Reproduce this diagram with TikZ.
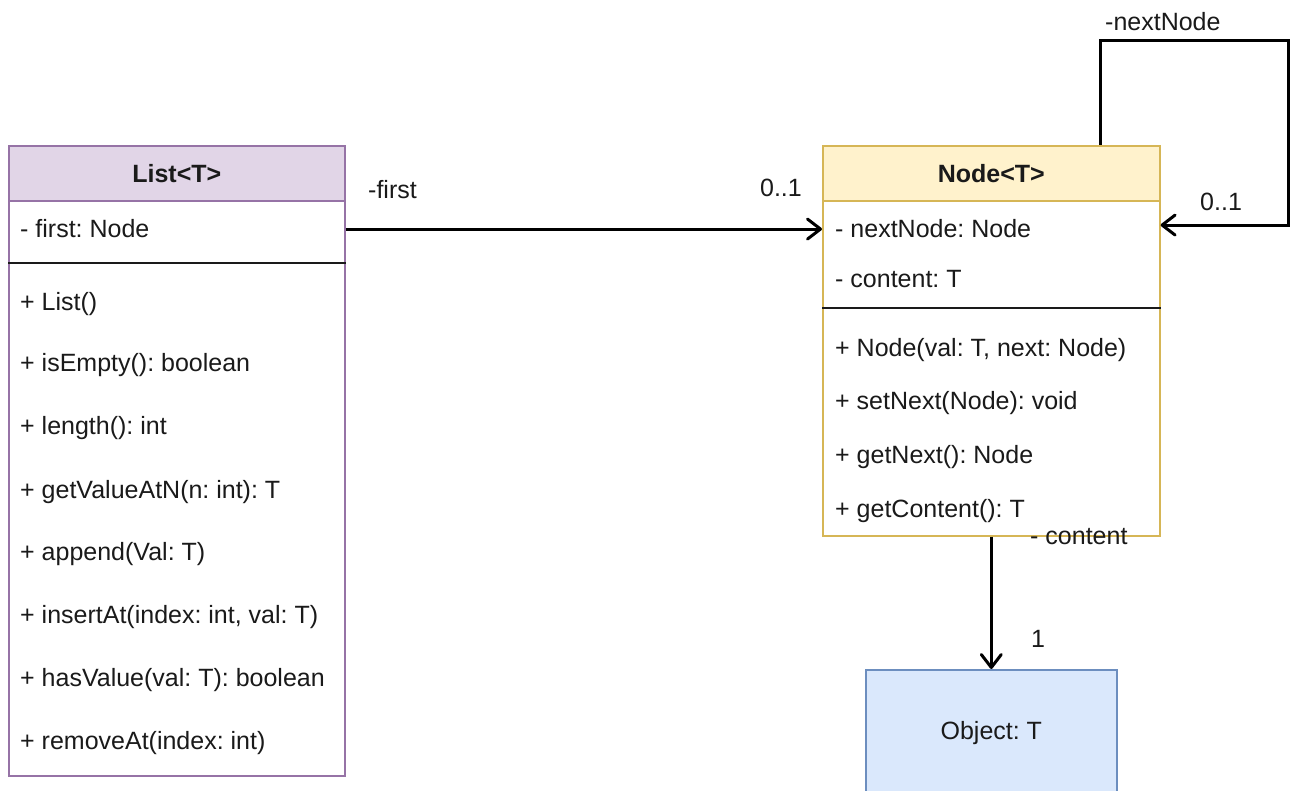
\documentclass[tikz,border=0pt]{standalone}
\usepackage{fontspec}
\setmainfont{Liberation Sans}
\usetikzlibrary{arrows.meta,calc}

\definecolor{listfill}{HTML}{E1D5E7}
\definecolor{liststroke}{HTML}{9673A6}
\definecolor{nodefill}{HTML}{FFF2CC}
\definecolor{nodestroke}{HTML}{D6B656}
\definecolor{objfill}{HTML}{DAE8FC}
\definecolor{objstroke}{HTML}{6C8EBF}
\definecolor{ink}{HTML}{1A1A1A}

\begin{document}
\frenchspacing
\begin{tikzpicture}[x=1pt, y=-1pt,
  every node/.style={font=\fontsize{25}{29}\selectfont, text=ink, inner sep=0pt},
  compartment/.style={draw, line width=1.6pt, anchor=north west},
  member/.style={anchor=base west},
  label/.style={anchor=base west},
  divider/.style={draw=ink, line width=2pt},
  assoc/.style={draw=black, line width=3pt,
    -{Straight Barb[length=13pt, width=20pt, line cap=round, line join=round]}}
]
\useasboundingbox (0,0) rectangle (1291,791);
\clip (0,0) rectangle (1291,791);
\fill[white] (0,0) rectangle (1291,791);

% ---- class List<T> ----
\node[compartment, draw=liststroke, fill=listfill, minimum width=336pt, minimum height=55pt]
  (listhd) at (8,145) {\bfseries List<T>};
\node[compartment, draw=liststroke, fill=white, minimum width=336pt, minimum height=575pt]
  (listbody) at (8,200) {};
\draw[divider] (listbody.west |- 0,263) -- (listbody.east |- 0,263);
\node[member] (lfirst) at (20,238) {- first: Node};
\node[member] (lm1) at (20,311) {+ List()};
\node[member] (lm2) at (20,372) {+ isEmpty(): boolean};
\node[member] (lm3) at (20,435) {+ length(): int};
\node[member] (lm4) at (20,498) {+ getValueAtN(n: int): T};
\node[member] (lm5) at (20,560) {+ append(Val: T)};
\node[member] (lm6) at (20,623) {+ insertAt(index: int, val: T)};
\node[member] (lm7) at (20,686) {+ hasValue(val: T): boolean};
\node[member] (lm8) at (20,749) {+ removeAt(index: int)};

% ---- class Node<T> ----
\node[compartment, draw=nodestroke, fill=nodefill, minimum width=337pt, minimum height=55pt]
  (nodehd) at (822,145) {\bfseries Node<T>};
\node[compartment, draw=nodestroke, fill=white, minimum width=337pt, minimum height=335pt]
  (nodebody) at (822,200) {};
\draw[divider] (nodebody.west |- 0,308) -- (nodebody.east |- 0,308);
\node[member] (nnext) at (835,238) {- nextNode: Node};
\node[member] (ncontent) at (835,288) {- content: T};
\node[member] (nm1) at (835,357) {+ Node(val: T, next: Node)};
\node[member] (nm2) at (835,410) {+ setNext(Node): void};
\node[member] (nm3) at (835,464) {+ getNext(): Node};
\node[member] (nm4) at (835,517) {+ getContent(): T};

% ---- Object: T ----
\node[compartment, draw=objstroke, fill=objfill, minimum width=251pt, minimum height=126pt]
  (obj) at (865,669) {Object: T};

% ---- associations ----
\coordinate (loopA) at (1100,41);
\coordinate (loopB) at (1288,41);
\draw[assoc, line join=miter] (lfirst.west -| listbody.east) -- (lfirst.west -| nodebody.west);
\draw[assoc, line join=miter] (nodehd.north -| loopA) -- (loopA) -- (loopB)
  |- ($(nnext.west -| nodebody.east)+(0,-4)$);
\draw[assoc] (nodebody.south -| obj.north) -- (obj.north);

% ---- role names and multiplicities ----
\node[label] (rfirst) at (368,199) {-first};
\node[anchor=base east] (mfirst) at (802,197) {0..1};
\node[label] (rnext) at (1105,31) {-nextNode};
\node[label] (mnext) at (1200,211) {0..1};
\node[label] (rcontent) at (1030,544) {- content};
\node[label] (mcontent) at (1031,647) {1};
\end{tikzpicture}
\end{document}
